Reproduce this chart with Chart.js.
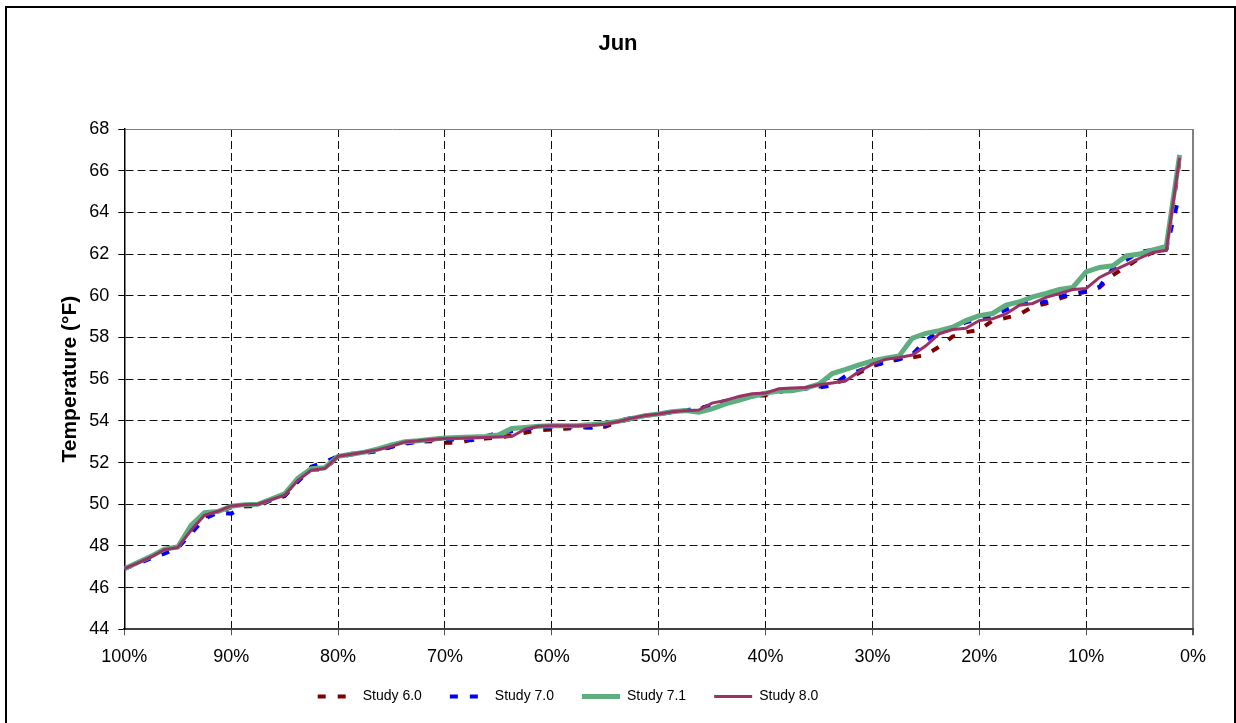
<!DOCTYPE html>
<html>
<head>
<meta charset="utf-8">
<title>Jun</title>
<script src="https://cdn.jsdelivr.net/npm/chart.js@4.4.0/dist/chart.umd.min.js"></script>
<style>
  html, body { margin: 0; padding: 0; background: #fff; overflow: hidden; }
  #wrap { position: relative; width: 1236px; height: 723px; }
  #frame {
    position: absolute; left: 5px; top: 6px; width: 1231px; height: 760px;
    box-sizing: border-box; border: 2px solid #000; pointer-events: none;
  }
</style>
</head>
<body>
<div id="wrap">
  <canvas id="chart" width="1236" height="723"></canvas>
  <div id="frame"></div>
</div>
<script>
// percent of hours exceeded (x axis, 100% -> 0%)
const percentExceeded = [
  100, 98.75, 97.5, 96.25, 95, 93.75, 92.5, 91.25, 90, 88.75,
  87.5, 86.25, 85, 83.75, 82.5, 81.25, 80, 78.75, 77.5, 76.25,
  75, 73.75, 72.5, 71.25, 70, 68.75, 67.5, 66.25, 65, 63.75,
  62.5, 61.25, 60, 58.75, 57.5, 56.25, 55, 53.75, 52.5, 51.25,
  50, 48.75, 47.5, 46.25, 45, 43.75, 42.5, 41.25, 40, 38.75,
  37.5, 36.25, 35, 33.75, 32.5, 31.25, 30, 28.75, 27.5, 26.25,
  25, 23.75, 22.5, 21.25, 20, 18.75, 17.5, 16.25, 15, 13.75,
  12.5, 11.25, 10, 8.75, 7.5, 6.25, 5, 3.75, 2.5, 1.25
];

const study60 = [
  46.9, 47.2, 47.45, 47.8, 47.9, 48.7, 49.4, 49.62, 49.85, 49.9,
  49.9, 50.2, 50.4, 51.1, 51.66, 51.68, 52.28, 52.38, 52.5, 52.6,
  52.75, 52.95, 53.0, 53.02, 52.95, 52.94, 53.1, 53.15, 53.2, 53.3,
  53.43, 53.55, 53.59, 53.62, 53.68, 53.7, 53.72, 53.95, 54.1, 54.25,
  54.33, 54.42, 54.48, 54.55, 54.8, 54.95, 55.1, 55.2, 55.22, 55.4,
  55.5, 55.55, 55.65, 55.8, 55.95, 56.3, 56.63, 56.8, 56.96, 57.04,
  57.16, 57.56, 58.04, 58.25, 58.36, 58.81, 58.94, 59.1, 59.47, 59.63,
  59.87, 60.08, 60.19, 60.4, 60.99, 61.39, 61.8, 62.08, 62.18, 66.5
];

const study70 = [
  46.9, 47.15, 47.4, 47.63, 47.9, 48.6, 49.3, 49.6, 49.55, 49.9,
  49.95, 50.2, 50.4, 51.1, 51.8, 52.03, 52.3, 52.42, 52.46, 52.55,
  52.75, 52.9, 53.0, 53.08, 53.12, 53.1, 53.07, 53.25, 53.43, 53.5,
  53.6, 53.7, 53.72, 53.75, 53.7, 53.67, 53.8, 54.0, 54.15, 54.25,
  54.33, 54.4, 54.5, 54.6, 54.75, 54.85, 55.0, 55.2, 55.3, 55.4,
  55.47, 55.55, 55.6, 55.7, 56.16, 56.4, 56.67, 56.8, 56.95, 57.2,
  57.85, 58.33, 58.46, 58.73, 58.89, 59.05, 59.32, 59.6, 59.66, 59.71,
  59.95, 60.11, 60.19, 60.43, 61.31, 61.71, 62.11, 62.2, 62.24, 64.9
];

const study71 = [
  46.9, 47.2, 47.5, 47.85, 47.95, 48.99, 49.6, 49.65, 49.9, 49.98,
  50.0, 50.25, 50.5, 51.25, 51.7, 51.75, 52.3, 52.4, 52.5, 52.65,
  52.85, 53.0, 53.05, 53.12, 53.18, 53.2, 53.22, 53.25, 53.32, 53.63,
  53.68, 53.74, 53.76, 53.77, 53.78, 53.82, 53.88, 53.98, 54.12, 54.25,
  54.33, 54.44, 54.49, 54.41, 54.57, 54.81, 54.98, 55.17, 55.33, 55.43,
  55.44, 55.57, 55.76, 56.27, 56.47, 56.69, 56.88, 57.01, 57.11, 57.97,
  58.2, 58.33, 58.49, 58.81, 59.05, 59.15, 59.55, 59.71, 59.95, 60.11,
  60.3, 60.4, 61.15, 61.36, 61.44, 61.91, 62.0, 62.2, 62.37, 66.76
];

const study80 = [
  46.91, 47.18, 47.47, 47.82, 47.92, 48.75, 49.47, 49.66, 49.92, 49.97,
  50.0, 50.22, 50.43, 51.15, 51.63, 51.71, 52.3, 52.4, 52.51, 52.62,
  52.78, 52.99, 53.04, 53.1, 53.15, 53.17, 53.19, 53.2, 53.22, 53.25,
  53.6, 53.74, 53.76, 53.77, 53.77, 53.79, 53.84, 53.97, 54.13, 54.26,
  54.33, 54.44, 54.49, 54.52, 54.85, 54.98, 55.17, 55.3, 55.33, 55.54,
  55.58, 55.6, 55.73, 55.82, 55.92, 56.37, 56.72, 56.95, 57.04, 57.16,
  57.6, 58.17, 58.38, 58.44, 58.81, 58.9, 59.13, 59.55, 59.63, 59.92,
  60.11, 60.3, 60.35, 60.88, 61.19, 61.49, 61.8, 62.08, 62.18, 66.62
];

const xTicks = [100, 90, 80, 70, 60, 50, 40, 30, 20, 10, 0];
const yTicks = [44, 46, 48, 50, 52, 54, 56, 58, 60, 62, 64, 66, 68];

Chart.defaults.font.family = '"Liberation Sans", Arial, sans-serif';
Chart.defaults.color = '#000';

// title centred on the whole canvas, legend moved to where the original has it
const placeBoxes = {
  id: 'placeBoxes',
  afterLayout(chart) {
    chart.titleBlock.left = 0;
    chart.titleBlock.right = chart.width;
    const lg = chart.legend;
    lg.left -= 28.5;
    lg.right -= 28.5;
    lg.top -= 9.5;
    lg.bottom -= 9.5;
  }
};

const ctx = document.getElementById('chart').getContext('2d');
new Chart(ctx, {
  type: 'line',
  data: {
    labels: percentExceeded,
    datasets: [
      {
        label: 'Study 6.0',
        data: study60,
        borderColor: '#800000',
        borderWidth: 4,
        borderDash: [8, 12],
        order: 4
      },
      {
        label: 'Study 7.0',
        data: study70,
        borderColor: '#0000ff',
        borderWidth: 4,
        borderDash: [8, 12],
        order: 3
      },
      {
        label: 'Study 7.1',
        data: study71,
        borderColor: '#5fae80',
        borderWidth: 5,
        order: 2
      },
      {
        label: 'Study 8.0',
        data: study80,
        borderColor: '#993366',
        borderWidth: 3,
        order: 1
      }
    ]
  },
  options: {
    responsive: false,
    animation: false,
    layout: {
      padding: { left: 0, right: 43, top: 0, bottom: 0 }
    },
    elements: {
      point: { radius: 0 },
      line: { tension: 0, fill: false, borderCapStyle: 'butt' }
    },
    plugins: {
      title: {
        display: true,
        text: 'Jun',
        font: { size: 22, weight: 'bold' },
        padding: { top: 30.8, bottom: 71.8 }
      },
      legend: {
        position: 'bottom',
        labels: {
          usePointStyle: true,
          pointStyleWidth: 38,
          padding: 28,
          font: { size: 14 },
          sort: (a, b) => a.datasetIndex - b.datasetIndex,
          generateLabels(chart) {
            const items = Chart.defaults.plugins.legend.labels.generateLabels(chart);
            items.forEach(item => {
              const ds = chart.data.datasets[item.datasetIndex];
              item.pointStyle = 'line';
              item.strokeStyle = ds.borderColor;
              item.lineWidth = ds.borderWidth;
              item.lineDash = ds.borderDash || [];
            });
            return items;
          }
        }
      },
      tooltip: { enabled: false }
    },
    scales: {
      x: {
        type: 'linear',
        reverse: true,
        min: 0,
        max: 100,
        afterBuildTicks: scale => { scale.ticks = xTicks.map(v => ({ value: v })); },
        afterFit: scale => { scale.height = 41.7; },
        ticks: {
          padding: 11,
          maxRotation: 0,
          autoSkip: false,
          font: { size: 18 },
          callback: v => v + '%'
        },
        grid: {
          color: c => (c.tick && c.tick.value === 0 ? '#808080' : '#111'),
          lineWidth: c => (c.tick && c.tick.value === 0 ? 2 : 1),
          tickLength: 6,
          tickColor: '#555',
          tickBorderDash: []
        },
        border: {
          color: '#404040',
          width: 2,
          dash: c => (c.tick && c.tick.value === 0 ? [] : [8, 4])
        }
      },
      y: {
        min: 44,
        max: 68,
        afterBuildTicks: scale => { scale.ticks = yTicks.map(v => ({ value: v })); },
        afterFit: scale => { scale.width = 124.3; },
        ticks: {
          padding: 9,
          font: { size: 18 }
        },
        title: {
          display: true,
          text: 'Temperature (°F)',
          font: { size: 21, weight: 'bold' },
          padding: { top: 57.4 }
        },
        grid: {
          color: c => (c.tick && c.tick.value === 68 ? '#808080' : '#111'),
          lineWidth: 1,
          tickLength: 6,
          tickColor: '#000',
          tickBorderDash: []
        },
        border: {
          color: '#000',
          width: 1.5,
          dash: c => (c.tick && c.tick.value === 68 ? [] : [8, 4])
        }
      }
    }
  },
  plugins: [placeBoxes]
});
</script>
</body>
</html>
